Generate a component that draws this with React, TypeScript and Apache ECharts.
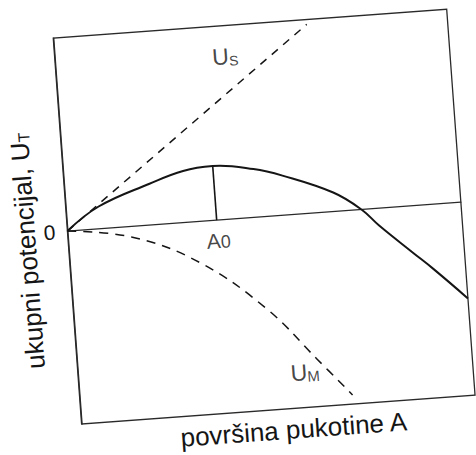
import React, { useEffect, useRef } from 'react';
import * as echarts from 'echarts';

// Crack area A is measured in units of A0, energies in units of U_T(A0).
const totalArea = [0, 0.22, 0.57, 0.8, 1, 1.27, 1.46, 1.79, 1.97, 2.08, 2.29, 2.42, 2.636];
const totalPotential = [0, 0.41, 0.76, 0.95, 1, 0.89, 0.73, 0.35, 0, -0.32, -0.86, -1.19, -1.78];

const surfaceArea = [0, 1.696];
const surfaceEnergy = [0, 3.48];

const elasticArea = [0, 0.43, 0.865, 1.29, 1.6, 1.82];
const elasticEnergy = [0, -0.2, -0.755, -1.7, -2.69, -3.4];

const criticalArea = 1; // A0
const criticalPotential = 1; // U_T at A0

const surfaceLabelAt = [1.137, 3.0];
const elasticLabelAt = [1.515, -2.92];
const criticalLabelAt = [1.003, -0.38];

const areaMin = 0;
const areaMax = 2.636;
const potentialMin = -3.57;
const potentialMax = 3.57;

const xTitle = 'površina pukotine A';
const yTitle = 'ukupni potencijal, U{t|T}';

const ink = '#151515';
const labelFont = "'Liberation Sans Narrow', 'Liberation Sans', Arial, sans-serif";
const titleFont = "'Liberation Sans', Arial, sans-serif";

const zip = (xs: number[], ys: number[]) => xs.map((x, i) => [x, ys[i]]);

export default function App() {
  const ref = useRef<HTMLDivElement>(null);

  useEffect(() => {
    if (!ref.current) return;
    const chart = echarts.init(ref.current, undefined, { renderer: 'svg' });

    const gridLeft = 80;
    const gridTop = 20;
    const gridWidth = 394.5;
    const gridHeight = 387;

    chart.setOption({
      animation: false,
      backgroundColor: '#ffffff',
      grid: {
        left: gridLeft,
        top: gridTop,
        width: gridWidth,
        height: gridHeight,
        show: true,
        borderColor: '#2a2a2a',
        borderWidth: 1.3,
        backgroundColor: 'transparent',
      },
      xAxis: {
        type: 'value',
        min: areaMin,
        max: areaMax,
        axisLine: { onZero: true, lineStyle: { color: '#2a2a2a', width: 1.3 } },
        axisTick: { show: false },
        splitLine: { show: false },
        axisLabel: { show: false },
      },
      yAxis: {
        type: 'value',
        min: potentialMin,
        max: potentialMax,
        interval: potentialMax,
        axisLine: { show: true, lineStyle: { color: '#2a2a2a', width: 1.3 } },
        axisTick: { show: false },
        splitLine: { show: false },
        axisLabel: {
          margin: 12,
          fontSize: 21,
          color: ink,
          fontFamily: labelFont,
          showMaxLabel: false,
          formatter: (v: number) => (Math.abs(v) < 1e-9 ? '0' : ''),
        },
      },
      series: [
        {
          name: 'U_T',
          type: 'line',
          data: zip(totalArea, totalPotential),
          smooth: 0.4,
          symbol: 'none',
          lineStyle: { color: ink, width: 2 },
        },
        {
          name: 'U_S',
          type: 'line',
          data: zip(surfaceArea, surfaceEnergy),
          symbol: 'none',
          lineStyle: { color: ink, width: 1.5, type: [8, 7] },
        },
        {
          name: 'U_M',
          type: 'line',
          data: zip(elasticArea, elasticEnergy),
          smooth: 0.4,
          symbol: 'none',
          lineStyle: { color: ink, width: 1.5, type: [9, 7] },
        },
        {
          name: 'A0',
          type: 'line',
          data: [
            [criticalArea, 0],
            [criticalArea, criticalPotential],
          ],
          symbol: 'none',
          lineStyle: { color: ink, width: 1.6 },
        },
        {
          name: 'curve labels',
          type: 'scatter',
          symbolSize: 0,
          silent: true,
          clip: false,
          data: [
            { value: surfaceLabelAt, name: '{m|U}{s|S}' },
            { value: elasticLabelAt, name: '{m|U}{t|M}' },
            { value: criticalLabelAt, name: '{a|A}{z|0}' },
          ],
          label: {
            show: true,
            position: 'inside',
            color: ink,
            fontFamily: labelFont,
            formatter: (p: any) => p.name,
            rich: {
              m: { fontSize: 23, lineHeight: 23, verticalAlign: 'top', fontFamily: labelFont, color: ink },
              s: {
                fontSize: 14,
                lineHeight: 14,
                padding: [11, 0, 0, 0],
                verticalAlign: 'bottom',
                fontFamily: labelFont,
                color: ink,
              },
              t: {
                fontSize: 15,
                lineHeight: 15,
                padding: [12, 0, 0, 0],
                verticalAlign: 'bottom',
                fontFamily: labelFont,
                color: ink,
              },
              a: { fontSize: 21, lineHeight: 21, verticalAlign: 'top', fontFamily: labelFont, color: ink },
              z: {
                fontSize: 18,
                lineHeight: 18,
                padding: [9.5, 0, 0, 0],
                verticalAlign: 'bottom',
                fontFamily: labelFont,
                color: ink,
              },
            },
          },
        },
      ],
      graphic: [
        {
          type: 'text',
          x: gridLeft - 41.5,
          y: gridTop + 210.2,
          rotation: Math.PI / 2,
          style: {
            text: yTitle,
            fontSize: 26,
            fontFamily: titleFont,
            fill: ink,
            align: 'center',
            verticalAlign: 'middle',
            rich: {
              t: { fontSize: 16, lineHeight: 16, padding: [8, 0, 0, 0], verticalAlign: 'bottom', fontFamily: titleFont, fill: ink },
            },
          },
        },
        {
          type: 'text',
          x: gridLeft + 211.2,
          y: gridTop + 408,
          style: {
            text: xTitle,
            fontSize: 26,
            fontFamily: titleFont,
            fill: ink,
            align: 'center',
            verticalAlign: 'middle',
          },
        },
      ],
    });

    return () => chart.dispose();
  }, []);

  return (
    <div
      style={{
        position: 'fixed',
        left: 0,
        top: 0,
        width: 476,
        height: 455,
        overflow: 'hidden',
        background: '#ffffff',
      }}
    >
      <div
        ref={ref}
        style={{
          position: 'absolute',
          left: -27.95,
          top: 24.21,
          width: 495,
          height: 460,
          transform: 'rotate(-4.2deg)',
          transformOrigin: '0 0',
        }}
      />
    </div>
  );
}
